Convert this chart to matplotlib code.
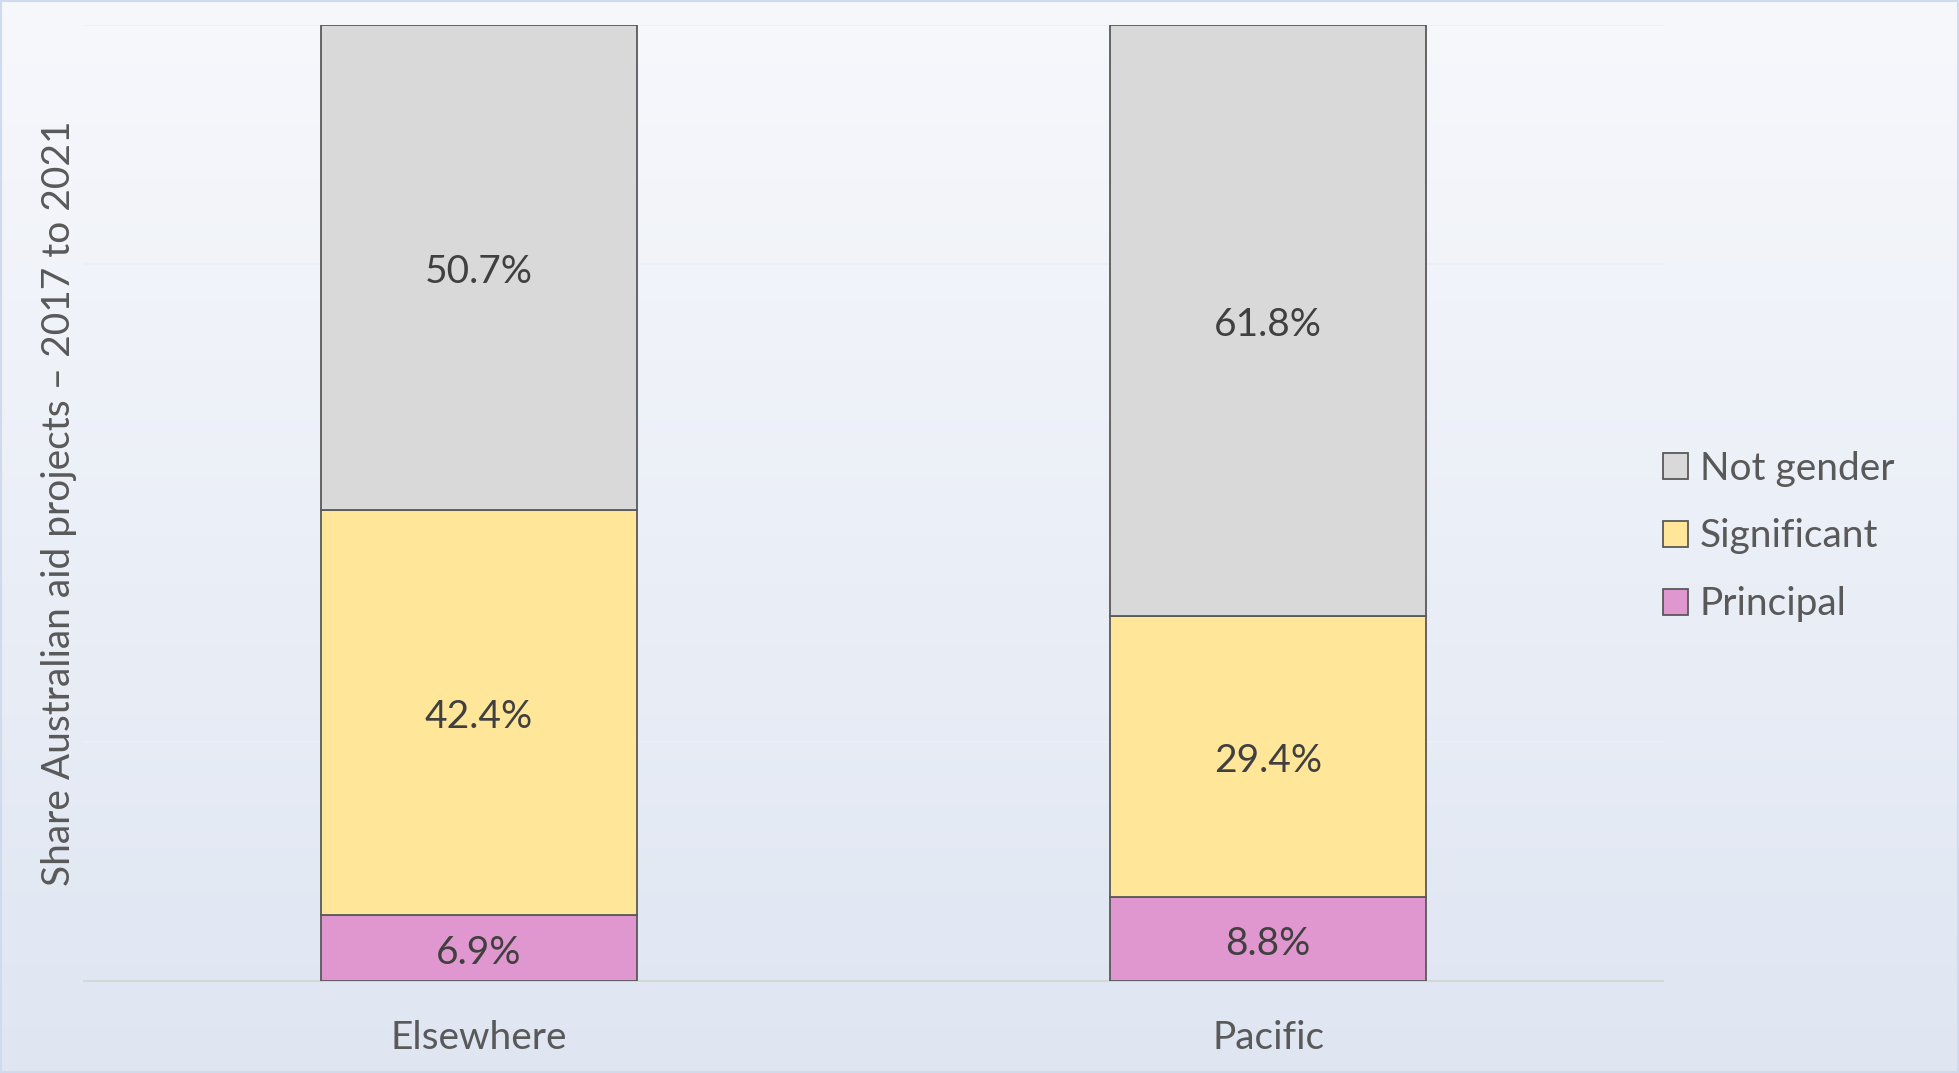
import numpy as np
import matplotlib.pyplot as plt
from matplotlib.patches import Patch, Rectangle

# Data
regions = ['Elsewhere', 'Pacific']
principal = [6.9, 8.8]
significant = [42.4, 29.4]
not_gender = [50.7, 61.8]

colors = {'Principal': '#e096ce', 'Significant': '#ffe699', 'Not gender': '#d9d9d9'}
edge = '#595959'
txt = '#595959'
fs = 28

plt.rcParams['font.family'] = ['Lato', 'DejaVu Sans']

fig = plt.figure(figsize=(19.59, 10.73), dpi=100)

# gradient background, light at top, bluish at bottom
bg = fig.add_axes([0, 0, 1, 1], zorder=-10)
grad = np.linspace(0, 1, 256).reshape(-1, 1)
top = np.array([0xf7, 0xf8, 0xfc]) / 255
bot = np.array([0xdf, 0xe6, 0xf2]) / 255
img = top + (bot - top) * grad[:, :, None]
bg.imshow(img, aspect='auto', extent=[0, 1, 0, 1], origin='upper')
bg.add_patch(Rectangle((0, 0), 1, 1, fill=False, edgecolor='#cfdaec', linewidth=3))
bg.set_xlim(0, 1)
bg.set_ylim(0, 1)
bg.axis('off')

ax = fig.add_axes([0.0429, 0.0857, 0.806, 0.891])
ax.patch.set_alpha(0)

x = np.arange(len(regions))
w = 0.4
bottoms = np.zeros(len(regions))
for name, vals in [('Principal', principal), ('Significant', significant), ('Not gender', not_gender)]:
    vals = np.array(vals)
    ax.bar(x, vals, w, bottom=bottoms, color=colors[name], edgecolor=edge, linewidth=1.3, zorder=3)
    for xi, b, v in zip(x, bottoms, vals):
        ax.annotate(f'{v:.1f}%', (xi, b + v / 2), xytext=(0, -3.5), textcoords='offset points',
                    ha='center', va='center', fontsize=fs, color='#404040', zorder=4)
    bottoms += vals

ax.set_xlim(-0.5, 1.5)
ax.set_ylim(0, 100)
ax.set_yticks([25, 50, 75, 100])
ax.yaxis.grid(True, color='#edeff4', linewidth=1.2, zorder=0)
ax.tick_params(axis='y', left=False, labelleft=False)
ax.set_xticks(x)
ax.set_xticklabels(regions, fontsize=fs, color=txt)
ax.tick_params(axis='x', length=0, pad=28)
for s in ['top', 'right', 'left']:
    ax.spines[s].set_visible(False)
ax.spines['bottom'].set_color('#d4d6da')
ax.spines['bottom'].set_linewidth(1.5)

fig.text(0.030, 0.531, 'Share Australian aid projects \u2013 2017 to 2021', rotation=90,
         ha='center', va='center', fontsize=fs, color=txt)

names = ['Not gender', 'Significant', 'Principal']
handles = [Patch(facecolor=colors[n], edgecolor=edge, linewidth=1.3) for n in names]
fig.legend(handles, names, loc='center left',
           bbox_to_anchor=(0.831, 0.5), frameon=False, fontsize=fs, labelcolor=txt,
           handlelength=0.65, handleheight=0.65, handletextpad=0.3, labelspacing=0.82)

fig.savefig('out.png', dpi=100)
